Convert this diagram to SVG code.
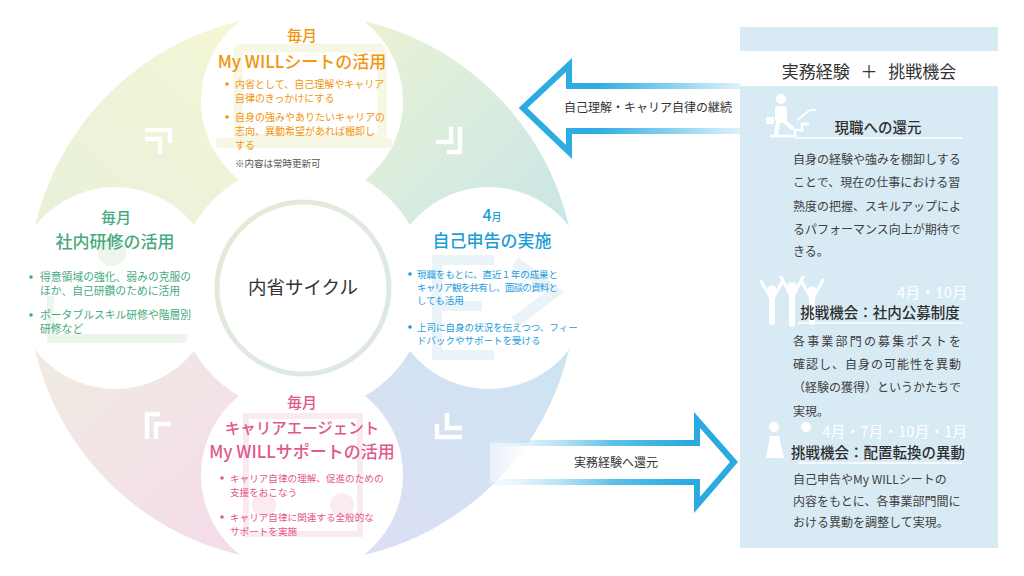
<svg xmlns="http://www.w3.org/2000/svg" width="1024" height="576" viewBox="0 0 1024 576">
<defs>
<style>
text{font-family:"Noto Sans CJK JP","Noto Sans",sans-serif;}
.c{text-anchor:middle;}
.h1{font-size:17px;font-weight:500;}
.h2{font-size:15px;font-weight:500;}
.or{fill:#f0960f;}
.gr{fill:#45aa7c;}
.bl{fill:#1d9cdb;}
.pk{fill:#e2578d;}
.b10{font-size:10px;}
.body{font-size:12px;fill:#404040;}
.sec{font-size:14.5px;fill:#2e2e2e;font-weight:500;text-anchor:middle;}
.chev{fill:none;stroke:#ffffff;stroke-width:4.5;}
.ico{fill:#ffffff;}
.icos{fill:none;stroke:#ffffff;stroke-linecap:round;}
.ul{stroke:#ffffff;stroke-width:1.5;}
</style>
<linearGradient id="gNW" gradientUnits="userSpaceOnUse" x1="60" y1="220" x2="230" y2="40"><stop offset="0" stop-color="#e8f1da"/><stop offset="1" stop-color="#f4f6d6"/></linearGradient>
<linearGradient id="gNE" gradientUnits="userSpaceOnUse" x1="370" y1="40" x2="560" y2="220"><stop offset="0" stop-color="#e8f2d6"/><stop offset="1" stop-color="#cbe6e6"/></linearGradient>
<linearGradient id="gSE" gradientUnits="userSpaceOnUse" x1="560" y1="350" x2="370" y2="545"><stop offset="0" stop-color="#cde4f2"/><stop offset="1" stop-color="#dcdff4"/></linearGradient>
<linearGradient id="gSW" gradientUnits="userSpaceOnUse" x1="230" y1="545" x2="45" y2="350"><stop offset="0" stop-color="#f5dcea"/><stop offset="1" stop-color="#efebe1"/></linearGradient>
<linearGradient id="gRing" gradientUnits="userSpaceOnUse" x1="220" y1="200" x2="390" y2="380"><stop offset="0" stop-color="#e3ecd4"/><stop offset="1" stop-color="#dce6ee"/></linearGradient>
<linearGradient id="gArrL" gradientUnits="userSpaceOnUse" x1="520" y1="0" x2="740" y2="0"><stop offset="0" stop-color="#29abe2"/><stop offset="0.35" stop-color="#2eade3"/><stop offset="1" stop-color="#dff1fa"/></linearGradient>
<linearGradient id="gArrR" gradientUnits="userSpaceOnUse" x1="490" y1="0" x2="735" y2="0"><stop offset="0" stop-color="#e3f3fb" stop-opacity="0.3"/><stop offset="0.5" stop-color="#5cc0ea"/><stop offset="0.8" stop-color="#29abe2"/><stop offset="1" stop-color="#29abe2"/></linearGradient>
<linearGradient id="gFillR" gradientUnits="userSpaceOnUse" x1="490" y1="0" x2="530" y2="0"><stop offset="0" stop-color="#ffffff" stop-opacity="0.5"/><stop offset="1" stop-color="#ffffff"/></linearGradient>
<g id="chev"><polyline class="chev" points="-13,-11 12,-11 12,2"/><polyline class="chev" points="-13,-2 2,-2 2,13"/></g>
</defs>

<rect width="1024" height="576" fill="#ffffff"/>

<g id="cycle-background">
<path d="M302,288 L28,288 A274,274 0 0 1 302,14 Z" fill="url(#gNW)"/>
<path d="M302,288 L302,14 A274,274 0 0 1 576,288 Z" fill="url(#gNE)"/>
<path d="M302,288 L576,288 A274,274 0 0 1 302,562 Z" fill="url(#gSE)"/>
<path d="M302,288 L302,562 A274,274 0 0 1 28,288 Z" fill="url(#gSW)"/>
<circle cx="302" cy="101" r="101" fill="#ffffff"/>
<circle cx="115" cy="288" r="101" fill="#ffffff"/>
<circle cx="489" cy="288" r="101" fill="#ffffff"/>
<circle cx="302" cy="475" r="101" fill="#ffffff"/>
<circle cx="302" cy="288" r="125" fill="#ffffff"/>
<use href="#chev" transform="translate(158,141)"/>
<use href="#chev" transform="translate(449,140) rotate(90)"/>
<use href="#chev" transform="translate(449,426) rotate(180)"/>
<use href="#chev" transform="translate(158,426) rotate(270)"/>
</g>

<g id="watermarks">
<rect x="238" y="48" width="144" height="90" rx="4" fill="none" stroke="#f7f7e6" stroke-width="9"/>
<rect x="216" y="138" width="176" height="10" rx="4" fill="#f7f7e6"/>
<circle cx="112" cy="252" r="14" fill="#eef5ec"/>
<rect x="47" y="334" width="140" height="9" fill="#eef5ec"/>
<rect x="47" y="296" width="7" height="40" fill="#eef5ec"/>
<rect x="432" y="255" width="10" height="105" fill="#eaf3f8"/>
<rect x="432" y="255" width="62" height="10" fill="#eaf3f8"/>
<rect x="432" y="301" width="50" height="10" fill="#eaf3f8"/>
<rect x="432" y="350" width="62" height="10" fill="#eaf3f8"/>
<polyline points="515,262 555,292 515,322" fill="none" stroke="#eaf3f8" stroke-width="11"/>
<rect x="246" y="416" width="114" height="118" fill="none" stroke="#f9ebf1" stroke-width="6"/>
<circle cx="264" cy="505" r="12" fill="#f9ebf1"/>
<circle cx="342" cy="505" r="12" fill="#f9ebf1"/>
</g>

<g id="center">
<circle cx="303" cy="288" r="86" fill="none" stroke="url(#gRing)" stroke-width="5"/>
<text x="303" y="294" class="c" font-size="18.5" fill="#333333">内省サイクル</text>
</g>

<g id="node-top">
<text x="302" y="41" class="c h2 or">毎月</text>
<text x="302" y="68" class="c h1 or">My WILLシートの活用</text>
<circle cx="227" cy="84" r="1.8" class="or"/>
<text x="235" y="88" class="b10 or">内省として、自己理解やキャリア</text>
<text x="235" y="102" class="b10 or">自律のきっかけにする</text>
<circle cx="227" cy="117" r="1.8" class="or"/>
<text x="235" y="121" class="b10 or">自身の強みやありたいキャリアの</text>
<text x="235" y="135" class="b10 or">志向、異動希望があれば棚卸し</text>
<text x="235" y="149" class="b10 or">する</text>
<text x="235" y="167" font-size="9.5" fill="#555555">※内容は常時更新可</text>
</g>

<g id="node-left">
<text x="116" y="223" class="c h2 gr">毎月</text>
<text x="115" y="248" class="c h1 gr">社内研修の活用</text>
<circle cx="31" cy="277" r="1.8" class="gr"/>
<text x="40" y="281" font-size="10.8" class="gr">得意領域の強化、弱みの克服の</text>
<text x="40" y="295" font-size="10.8" class="gr">ほか、自己研鑽のために活用</text>
<circle cx="31" cy="315" r="1.8" class="gr"/>
<text x="40" y="319" font-size="10.8" class="gr">ポータブルスキル研修や階層別</text>
<text x="40" y="333" font-size="10.8" class="gr">研修など</text>
</g>

<g id="node-right">
<text x="492" y="221" class="c bl" font-weight="500"><tspan font-size="16">4</tspan><tspan font-size="10">月</tspan></text>
<text x="492" y="247" class="c h1 bl">自己申告の実施</text>
<circle cx="410" cy="274" r="1.8" class="bl"/>
<text x="417" y="278" font-size="9.5" class="bl" textLength="141" lengthAdjust="spacing">現職をもとに、直近１年の成果と</text>
<text x="417" y="291" font-size="9.5" class="bl" textLength="141" lengthAdjust="spacing">キャリア観を共有し、面談の資料と</text>
<text x="417" y="304" font-size="9.5" class="bl">しても活用</text>
<circle cx="410" cy="327" r="1.8" class="bl"/>
<text x="417" y="331" font-size="9.5" class="bl">上司に自身の状況を伝えつつ、フィー</text>
<text x="417" y="344" font-size="9.5" class="bl">ドバックやサポートを受ける</text>
</g>

<g id="node-bottom">
<text x="302" y="408" class="c h2 pk">毎月</text>
<text x="302" y="434" class="c pk" font-size="15.5" font-weight="500">キャリアエージェント</text>
<text x="302" y="458" class="c h1 pk">My WILLサポートの活用</text>
<circle cx="222" cy="478" r="1.8" class="pk"/>
<text x="230" y="482" font-size="9.6" class="pk">キャリア自律の理解、促進のための</text>
<text x="230" y="496" font-size="9.6" class="pk">支援をおこなう</text>
<circle cx="222" cy="517" r="1.8" class="pk"/>
<text x="230" y="521" font-size="9.6" class="pk">キャリア自律に関連する全般的な</text>
<text x="230" y="535" font-size="9.6" class="pk">サポートを実施</text>
</g>

<g id="connectors">
<g id="arrow-continue">
<path d="M740,86 H569 V65 L523,108 L569,152 V131 H740 Z" fill="#ffffff"/>
<path d="M740,86 H569 V65 L523,108 L569,152 V131 H740" fill="none" stroke="url(#gArrL)" stroke-width="6"/>
<text x="648" y="112" class="c" font-size="12" fill="#333333">自己理解・キャリア自律の継続</text>
</g>
<g id="arrow-return">
<path d="M490,443 H697 V420 L734,462 L697,505 V482 H490 Z" fill="url(#gFillR)"/>
<path d="M490,443 H697 V420 L734,462 L697,505 V482 H490" fill="none" stroke="url(#gArrR)" stroke-width="6"/>
<text x="616" y="467" class="c" font-size="12" fill="#333333">実務経験へ還元</text>
</g>
</g>

<g id="panel">
<rect x="740" y="27" width="258" height="521" fill="#d8ebf5"/>
<rect x="740" y="51" width="258" height="35" fill="#ffffff"/>
<text x="869" y="78" class="c" font-size="17" word-spacing="7" fill="#333333">実務経験 ＋ 挑戦機会</text>
</g>

<g id="sec-current">
<circle cx="781" cy="99" r="5" class="ico"/>
<rect x="775" y="106" width="12" height="17" rx="4" class="ico"/>
<path d="M778,122 L776,135 M785,122 L792,128" class="icos" stroke-width="4"/>
<rect x="766" y="117" width="8" height="7" rx="1" class="ico"/>
<polyline points="770,136 795,136 795,130 802,130 802,124 809,124" fill="none" stroke="#ffffff" stroke-width="2.5"/>
<polyline points="797,120 810,110 816,110" fill="none" stroke="#ffffff" stroke-width="2"/>
<text x="878" y="133" class="sec">現職への還元</text>
<line x1="795" y1="138" x2="962" y2="138" class="ul"/>
<text x="793" y="164" class="body">自身の経験や強みを棚卸しする</text>
<text x="793" y="187" class="body">ことで、現在の仕事における習</text>
<text x="793" y="211" class="body">熟度の把握、スキルアップによ</text>
<text x="793" y="234" class="body">るパフォーマンス向上が期待で</text>
<text x="793" y="256" class="body">きる。</text>
</g>

<g id="sec-posting">
<circle cx="772" cy="290" r="4.5" class="ico"/>
<circle cx="792" cy="287" r="5" class="ico"/>
<circle cx="812" cy="291" r="4.5" class="ico"/>
<path d="M772,297 V322 M792,295 V324 M812,298 V322" class="icos" stroke-width="6"/>
<path d="M772,300 L761,281 M772,300 L782,282 M792,298 L781,277 M792,298 L803,277 M812,300 L802,282 M812,300 L823,280" class="icos" stroke-width="3"/>
<text x="967" y="298" font-size="15" fill="#ffffff" text-anchor="end">4月・10月</text>
<text x="880" y="318" class="sec">挑戦機会：社内公募制度</text>
<line x1="798" y1="323" x2="962" y2="323" class="ul"/>
<text x="793" y="346" class="body" textLength="168" lengthAdjust="spacing">各事業部門の募集ポストを</text>
<text x="793" y="369" class="body" textLength="168" lengthAdjust="spacing">確認し、自身の可能性を異動</text>
<text x="793" y="392" class="body" textLength="168" lengthAdjust="spacing">（経験の獲得）というかたちで</text>
<text x="793" y="416" class="body">実現。</text>
</g>

<g id="sec-transfer">
<circle cx="774" cy="427" r="5" class="ico"/>
<path d="M766,458 L770,436 H779 L784,458 Z" class="ico"/>
<circle cx="806" cy="427" r="5" class="ico"/>
<text x="967" y="437" font-size="14.8" fill="#ffffff" text-anchor="end">4月・7月・10月・1月</text>
<text x="878" y="458" class="sec">挑戦機会：配置転換の異動</text>
<line x1="798" y1="463" x2="962" y2="463" class="ul"/>
<text x="793" y="484" class="body">自己申告やMy WILLシートの</text>
<text x="793" y="506" class="body">内容をもとに、各事業部門間に</text>
<text x="793" y="527" class="body">おける異動を調整して実現。</text>
</g>
</svg>
